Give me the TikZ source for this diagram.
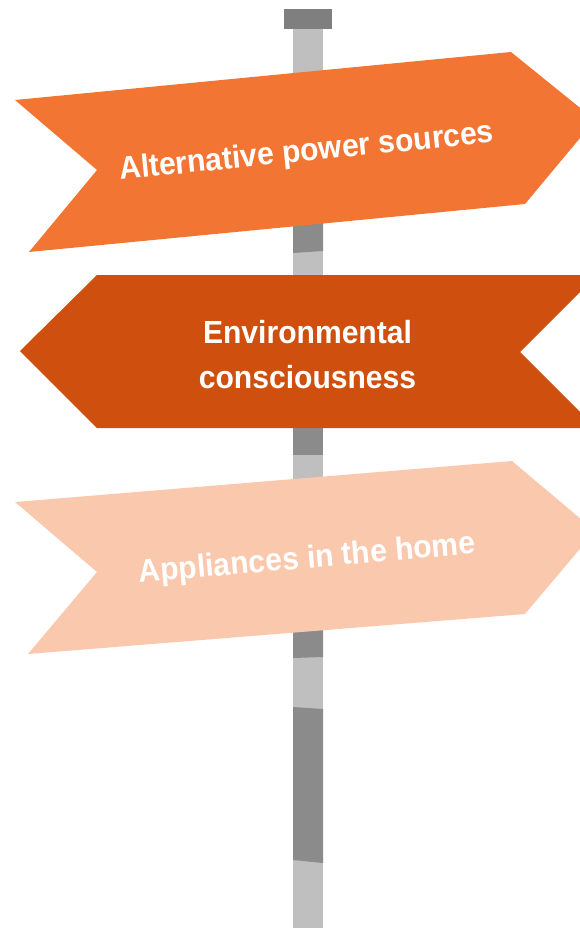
\documentclass[tikz,border=0pt]{standalone}
\usepackage{fontspec}
\setmainfont{Liberation Sans}
\usepackage{tikz}

\definecolor{signone}{HTML}{F27533}
\definecolor{signtwo}{HTML}{CF4F0E}
\definecolor{signthree}{HTML}{F9C8AD}
\definecolor{polelight}{HTML}{BFBFBF}
\definecolor{poledark}{HTML}{8B8B8B}
\definecolor{polecap}{HTML}{7F7F7F}

\begin{document}
\begin{tikzpicture}[x=1pt, y=-1pt,
    signtext/.style={text=white, anchor=base, inner sep=0pt,
      font=\fontsize{32}{38}\selectfont\bfseries}]
        \path [use as bounding box] (0,0) rectangle (580,928);      %
        \clip (0,0) rectangle (580,928);                            %

        % the pole
        \fill [polelight] (293,29) rectangle (323,928);             %
        \fill [polecap]   (284,9)  rectangle (332,29);              %cap
        \fill [poledark]  (293,200) -- (323,200) -- (323,251) -- (293,253) -- cycle;
        \fill [poledark]  (293,410) rectangle (323,455);            %
        \fill [poledark]  (293,620) -- (323,620) -- (323,657) -- (293,658) -- cycle;
        \fill [poledark]  (293,707) -- (323,709) -- (323,863) -- (293,860) -- cycle;

        % signs
        \fill [signone]   (15,100) -- (97,170) -- (29,252) -- (525,204) -- (595,120) -- (511,52) -- cycle;  %top
        \node (altpower) [signtext, rotate=5.75, xscale=0.94] at (307.5,161) {Alternative power sources};

        \fill [signtwo]   (97,275) -- (20,351) -- (97,428) -- (596,428) -- (520,352) -- (597,275) -- cycle; %middle
        \node (envone) [signtext, xscale=0.94] at (307.5,343) {Environmental};    %
        \node (envtwo) [signtext, xscale=0.94] at (307.5,388) {consciousness};    %

        \fill [signthree] (15,502) -- (97,572) -- (28,654) -- (525,614) -- (595,531) -- (512,461) -- cycle; %bottom
        \node (appliances) [signtext, rotate=5, xscale=0.94] at (308,568) {Appliances in the home};
      \end{tikzpicture}
\end{document}
